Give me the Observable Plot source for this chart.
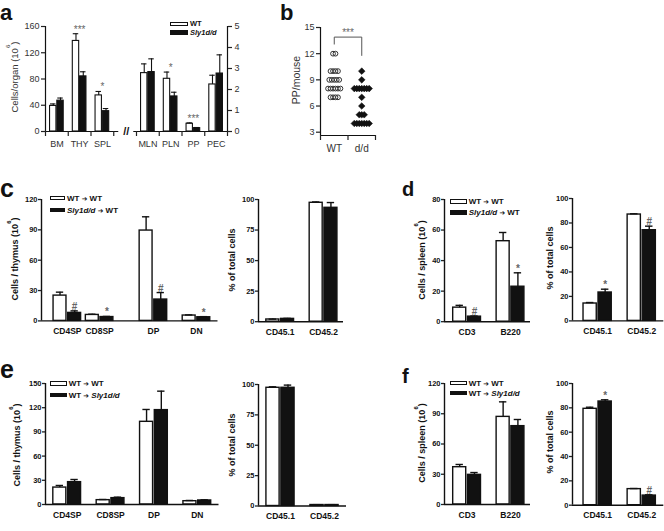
<!DOCTYPE html>
<html><head><meta charset="utf-8">
<script src="https://cdn.jsdelivr.net/npm/d3@7"></script>
<script src="https://cdn.jsdelivr.net/npm/@observablehq/plot@0.6"></script>
<style>
body{margin:0;background:#fff;}
#fig{position:relative;width:664px;height:531px;overflow:hidden;font-family:"Liberation Sans",Arial,Helvetica,sans-serif;color:#222;background:#fff;}
#fig svg{overflow:visible;position:absolute;}
.letter{position:absolute;font-weight:bold;line-height:1.15;color:#111;}
.ytitle{position:absolute;white-space:nowrap;line-height:1;transform:translate(-50%,-50%) rotate(-90deg);}
.lrow{position:absolute;display:flex;align-items:center;height:10px;font-weight:bold;white-space:nowrap;color:#111;}
.sw{box-sizing:border-box;border:1.2px solid #111;margin-right:2px;}
.arr{font-family:"DejaVu Sans",sans-serif;font-size:85%;}
sup{font-size:65%;vertical-align:top;position:relative;top:-0.35em;line-height:0;}
</style></head><body><div id="fig"></div>
<script>
// ================= DATA =================
// a: cells per organ (10^6); left group on left axis, right group on right axis
const aCatsL = ["BM","THY","SPL"];
const aWTL = [39,138,55], aWTLerr = [3,11,6];
const aKOL = [47,84,31],  aKOLerr = [4,7,4];
const aSigL = ["","***","*"];
const aCatsR = ["MLN","PLN","PP","PEC"];
const aWTR = [2.78,2.51,0.37,2.24], aWTRerr = [0.44,0.32,0.04,0.44];
const aKOR = [2.83,1.67,0.16,2.76], aKORerr = [0.63,0.20,0.03,0.89];
const aSigR = ["","*","***",""];
const aTicksL = [0,40,80,120,160], aTicksR = [0,1,2,3,4,5];

// b: PP per mouse
const bGroups = ["WT","d/d"];
const bWT = [12,12,10,10,10,10,9,9,9,9,9,8,8,8,8,8,8,7,7,7,7];
const bKO = [10,9,8,8,8,8,8,8,8,7,6,5,5,5,4,4,4,4,4,4,4];
const bTicks = [3,6,9,12,15];
const bSig = [{label:"***", y:13.9, yLeft:13.1, yRight:11.8}];

// c
const cCats = ["CD4SP","CD8SP","DP","DN"];
const cWT = [25,5.9,89.3,5.3], cWTerr = [3.4,0.7,13.6,0.6];
const cKO = [7.9,3.8,21.1,3.6], cKOerr = [2,0.6,6.9,0.6];
const cSig = ["#","*","#","*"];
const cTicks = [0,30,60,90,120];
const pctCats = ["CD45.1","CD45.2"];
const cPWT = [1.8,97.3], cPWTerr = [0.3,0.7];
const cPKO = [2.3,93.2], cPKOerr = [0.4,4.3];
const cPSig = ["",""];
const pctTicks25 = [0,25,50,75,100];

// d
const spCats = ["CD3","B220"];
const dWT = [9.2,52.7], dWTerr = [1.5,5.7];
const dKO = [3.3,22.9], dKOerr = [0.4,9.1];
const dSig = ["#","*"];
const dTicks = [0,20,40,60,80];
const dPWT = [14.2,86.9], dPWTerr = [0.8,0.6];
const dPKO = [23.2,74.1], dPKOerr = [2.7,3.3];
const dPSig = ["*","#"];
const pctTicks20 = [0,20,40,60,80,100];

// e
const eWT = [21,5.4,102.5,4.1], eWTerr = [2.6,0.8,15.3,0.9];
const eKO = [27.7,7.9,117,5], eKOerr = [3.3,1.2,23.5,0.8];
const eSig = ["","","",""];
const eTicks = [0,30,60,90,120,150];
const ePWT = [97.3,0.8], ePWTerr = [0.8,0.3];
const ePKO = [97.3,0.8], ePKOerr = [2.2,0.3];
const ePSig = ["",""];

// f
const fWT = [37,86.9], fWTerr = [2.7,14.9];
const fKO = [29.4,77.7], fKOerr = [2.3,6.6];
const fSig = ["",""];
const fTicks = [0,30,60,90,120];
const fPWT = [79.2,13.2], fPWTerr = [1.3,0.5];
const fPKO = [85.2,7.9], fPKOerr = [1.4,0.6];
const fPSig = ["*","#"];

// ================= LAYOUT HELPERS =================
const FONT = '"Liberation Sans", Arial, Helvetica, sans-serif';
const INK = "#111";
const fig = document.getElementById("fig");
const PAD = 40;

function mount(svg, left, top) {
  svg.style.left = left + "px";
  svg.style.top = top + "px";
  fig.appendChild(svg);
}

function makePlot(frame, xDomain, yDomain, marks, inset = 0) {
  const width = frame.x1 - frame.x0 + 2 * PAD;
  const height = frame.y0 - frame.y1 + 2 * PAD;
  const svg = Plot.plot({
    width, height,
    marginLeft: PAD, marginRight: PAD, marginTop: PAD, marginBottom: PAD,
    x: {type: "linear", domain: xDomain, axis: null},
    y: {type: "linear", domain: yDomain, insetBottom: inset, axis: null},
    style: {background: "transparent", fontFamily: FONT, color: "#222", overflow: "visible"},
    marks
  });
  mount(svg, frame.x0 - PAD, frame.y1 - PAD);
  return svg;
}

function barRows(cats, pos, wt, wtErr, ko, koErr, g) {
  const rows = [];
  cats.forEach((c, i) => {
    rows.push({cat: c, s: "WT", i, a: pos[i] - g.outer, b: pos[i] - g.gap, v: wt[i], e: wtErr[i]});
    rows.push({cat: c, s: "KO", i, a: pos[i] + g.gap, b: pos[i] + g.outer, v: ko[i], e: koErr[i]});
  });
  rows.forEach(r => { r.c = (r.a + r.b) / 2; r.t = r.v + r.e; });
  return rows;
}

function barMarks(rows, g) {
  return [
    Plot.rect(rows, {x1: "a", x2: "b", y1: 0, y2: "v",
      fill: d => d.s === "WT" ? "white" : INK, stroke: INK, strokeWidth: g.sw}),
    Plot.ruleX(rows, {x: "c", y1: "v", y2: "t", stroke: INK, strokeWidth: g.sw}),
    Plot.ruleY(rows, {y: "t", x1: d => d.c - g.cap, x2: d => d.c + g.cap, stroke: INK, strokeWidth: g.sw})
  ];
}

// generic c-f style bar panel
function barPanel(o) {
  const g = {outer: 0.32, gap: 0.02, cap: 0.085, sw: 1.4};
  const rows = barRows(o.cats, o.pos, o.wt, o.wtErr, o.ko, o.koErr, g);
  const sigRows = rows.filter(r => r.s === "KO" && o.sig[r.i]).map(r => ({...r, lab: o.sig[r.i]}));
  const marks = [
    ...barMarks(rows, g),
    Plot.text(sigRows, {x: "c", y: "t", text: "lab", dy: -1, lineAnchor: "bottom",
      fontSize: 10, fill: "#666", fontWeight: "bold"}),
    Plot.ruleX([o.xDomain[0]], {stroke: INK, strokeWidth: 1.4}),
    Plot.ruleY([0], {stroke: INK, strokeWidth: 1.4}),
    Plot.axisY({ticks: o.yTicks, tickFormat: d => String(d), tickSize: 3, tickPadding: 1, label: null,
      fontSize: 7.5, fontWeight: "bold", strokeWidth: 1.3, fill: INK}),
    Plot.axisX({ticks: o.pos, tickFormat: d => o.cats[o.pos.indexOf(d)], tickSize: 0,
      tickPadding: 7, label: null, fontSize: 8.5, fontWeight: "bold", fill: INK})
  ];
  makePlot(o.frame, o.xDomain, [o.yTicks[0], o.yTicks[o.yTicks.length - 1]], marks);
}

function letter(ch, left, baseline, size) {
  // line-height 1.15 → baseline sits ≈ 0.9435·size below the box top
  const d = document.createElement("div");
  d.className = "letter";
  d.textContent = ch;
  d.style.fontSize = size + "px";
  d.style.left = left + "px";
  d.style.top = Math.max(0, baseline - 0.9435 * size) + "px";
  fig.appendChild(d);
}

function ytitle(html, cx, cy, size, bold) {
  const d = document.createElement("div");
  d.className = "ytitle";
  d.innerHTML = html;
  d.style.left = cx + "px";
  d.style.top = cy + "px";
  d.style.fontSize = size + "px";
  d.style.fontWeight = bold ? "bold" : "normal";
  d.style.color = bold ? INK : "#333";
  fig.appendChild(d);
}

function legend(left, c1, step, swW, swH, size, items) {
  items.forEach((it, k) => {
    const row = document.createElement("div");
    row.className = "lrow";
    row.style.left = left + "px";
    row.style.top = (c1 + k * step - 5) + "px";
    row.style.fontSize = size + "px";
    const sw = document.createElement("span");
    sw.className = "sw";
    sw.style.width = swW + "px";
    sw.style.height = swH + "px";
    sw.style.background = it.fill;
    const tx = document.createElement("span");
    tx.innerHTML = it.html;
    row.appendChild(sw); row.appendChild(tx);
    fig.appendChild(row);
  });
}

// ================= PANEL a =================
{
  const posL = aCatsL.map((_, i) => i);
  const posR = aCatsR.map((_, i) => i + aCatsL.length + 1);
  const allCats = [...aCatsL, ...aCatsR], allPos = [...posL, ...posR];
  const xDomain = [-0.5, allPos[allPos.length - 1] + 0.5];
  const bounds = d3.range(xDomain[0], xDomain[1] + 0.01, 1);
  const breakAt = aCatsL.length;
  const frame = {x0: 45, x1: 227, y0: 131, y1: 26};
  const g = {outer: 0.3, gap: 0.02, cap: 0.12, sw: 1.1};
  const rowsL = barRows(aCatsL, posL, aWTL, aWTLerr, aKOL, aKOLerr, g);
  const rowsR = barRows(aCatsR, posR, aWTR, aWTRerr, aKOR, aKORerr, g);
  const sigOf = (rows, sig) => d3.groups(rows, r => r.i)
    .filter(([i]) => sig[i])
    .map(([i, rs]) => ({x: (rs[0].a + rs[1].b) / 2, y: d3.max(rs, r => r.t), lab: sig[i]}));
  const sigStyle = {x: "x", y: "y", text: "lab", dy: -1, lineAnchor: "bottom", fontSize: 10, fill: "#666"};
  makePlot(frame, xDomain, [0, 160], [
    ...barMarks(rowsL, g),
    Plot.text(sigOf(rowsL, aSigL), sigStyle),
    Plot.ruleX([xDomain[0]], {stroke: INK, strokeWidth: 1.2}),
    Plot.ruleY([0], {x1: xDomain[0], x2: breakAt - 0.28, stroke: INK, strokeWidth: 1.2}),
    Plot.ruleY([0], {x1: breakAt + 0.38, x2: xDomain[1], stroke: INK, strokeWidth: 1.2}),
    Plot.text(["//"], {x: breakAt + 0.05, y: 0, text: d => d, fontSize: 11, fill: INK, fontWeight: "bold"}),
    Plot.axisY({ticks: aTicksL, tickFormat: d => String(d), tickSize: 4, tickPadding: 2, label: null, fontSize: 9, fill: "#333", strokeWidth: 1.2}),
    Plot.axisX({ticks: bounds, tickFormat: () => "", tickSize: 5, label: null, strokeWidth: 1.2}),
    Plot.axisX({ticks: allPos, tickFormat: d => allCats[allPos.indexOf(d)], tickSize: 0, tickPadding: 9,
      label: null, fontSize: 9, fill: "#333"})
  ]);
  makePlot(frame, xDomain, [0, 5], [
    ...barMarks(rowsR, g),
    Plot.text(sigOf(rowsR, aSigR), sigStyle),
    Plot.ruleX([xDomain[1]], {stroke: INK, strokeWidth: 1.2}),
    Plot.axisY({anchor: "right", ticks: aTicksR, tickFormat: d => String(d), tickSize: 4, tickPadding: 3, label: null, fontSize: 9, fill: "#333", strokeWidth: 1.2})
  ]);
  letter("a", 0, 20.5, 22);
  ytitle("Cells/organ (10<sup>6</sup>)", 15, 77, 9.5, false);
  legend(170, 23.8, 8.7, 18, 4.5, 7.5, [
    {fill: "white", html: "WT"},
    {fill: INK, html: "<i>Sly1d/d</i>"}
  ]);
}

// ================= PANEL b =================
{
  const step = 0.09;
  function swarm(vals, gi) {
    const counts = d3.rollup(vals, v => v.length, d => d);
    const seen = new Map();
    return vals.map(v => {
      const n = counts.get(v), k = seen.get(v) || 0;
      seen.set(v, k + 1);
      return {x: gi + (k - (n - 1) / 2) * step, v};
    });
  }
  const ptsWT = swarm(bWT, 0), ptsKO = swarm(bKO, 1);
  const gpos = bGroups.map((_, i) => i);
  const xDomain = [-0.5, bGroups.length - 0.5];
  const frame = {x0: 320, x1: 375, y0: 135, y1: 27};
  const bracket = bSig.flatMap(s => [
    {x: 0, y: s.yLeft}, {x: 0, y: s.y}, {x: 1, y: s.y}, {x: 1, y: s.yRight}
  ]);
  makePlot(frame, xDomain, [bTicks[0], bTicks[bTicks.length - 1]], [
    Plot.dot(ptsWT, {x: "x", y: "v", r: 2.4, stroke: "#333", fill: "none", strokeWidth: 1}),
    Plot.dot(ptsKO, {x: "x", y: "v", r: 3, symbol: "diamond2", fill: INK, stroke: INK, strokeWidth: 0.5}),
    Plot.line(bracket, {x: "x", y: "y", stroke: "#555", strokeWidth: 1}),
    Plot.text(bSig, {x: () => 0.5, y: "y", text: "label", dy: -1, lineAnchor: "bottom", fontSize: 10, fill: "#666"}),
    Plot.ruleX([xDomain[0]], {stroke: INK, strokeWidth: 1.2}),
    Plot.ruleY([bTicks[0]], {dy: 3.3, stroke: INK, strokeWidth: 1.2}),
    Plot.axisY({ticks: bTicks, tickFormat: d => String(d), tickSize: 4, tickPadding: 2, label: null, fontSize: 9, fill: "#333", strokeWidth: 1.2}),
    Plot.axisX({ticks: d3.range(xDomain[0], xDomain[1] + 0.01, 1), tickFormat: () => "", tickSize: 5, label: null, strokeWidth: 1.2}),
    Plot.axisX({ticks: gpos, tickFormat: d => bGroups[d], tickSize: 0, tickPadding: 9, label: null, fontSize: 10, fill: "#333"})
  ], 3.3);
  letter("b", 280, 21, 22);
  ytitle("PP/mouse", 296, 80, 10.5, false);
}

// ================= PANELS c-f =================
const thymusPosC = [0, 0.75, 2, 3];
const thymusPosE = [0, 1, 2, 3];
const pairPos = [0, 1];

barPanel({cats: cCats, pos: thymusPosC, wt: cWT, wtErr: cWTerr, ko: cKO, koErr: cKOerr, sig: cSig,
  yTicks: cTicks, xDomain: [-0.6, 3.5], frame: {x0: 40.5, x1: 217, y0: 320.7, y1: 199.3}});
barPanel({cats: pctCats, pos: pairPos, wt: cPWT, wtErr: cPWTerr, ko: cPKO, koErr: cPKOerr, sig: cPSig,
  yTicks: pctTicks25, xDomain: [-0.5, 1.46], frame: {x0: 258, x1: 343, y0: 321.5, y1: 199.3}});
barPanel({cats: spCats, pos: pairPos, wt: dWT, wtErr: dWTerr, ko: dKO, koErr: dKOerr, sig: dSig,
  yTicks: dTicks, xDomain: [-0.52, 1.46], frame: {x0: 444, x1: 530, y0: 321.5, y1: 199.3}});
barPanel({cats: pctCats, pos: pairPos, wt: dPWT, wtErr: dPWTerr, ko: dPKO, koErr: dPKOerr, sig: dPSig,
  yTicks: pctTicks20, xDomain: [-0.57, 1.5], frame: {x0: 571.7, x1: 663, y0: 320.7, y1: 198.3}});
barPanel({cats: cCats, pos: thymusPosE, wt: eWT, wtErr: eWTerr, ko: eKO, koErr: eKOerr, sig: eSig,
  yTicks: eTicks, xDomain: [-0.5, 3.5], frame: {x0: 44.5, x1: 218, y0: 504.3, y1: 383.3}});
barPanel({cats: pctCats, pos: pairPos, wt: ePWT, wtErr: ePWTerr, ko: ePKO, koErr: ePKOerr, sig: ePSig,
  yTicks: pctTicks25, xDomain: [-0.5, 1.5], frame: {x0: 258, x1: 346, y0: 505.5, y1: 384}});
barPanel({cats: spCats, pos: pairPos, wt: fWT, wtErr: fWTerr, ko: fKO, koErr: fKOerr, sig: fSig,
  yTicks: fTicks, xDomain: [-0.52, 1.46], frame: {x0: 444, x1: 530, y0: 504.3, y1: 383.3}});
barPanel({cats: pctCats, pos: pairPos, wt: fPWT, wtErr: fPWTerr, ko: fPKO, koErr: fPKOerr, sig: fPSig,
  yTicks: pctTicks20, xDomain: [-0.57, 1.5], frame: {x0: 571.7, x1: 663, y0: 505, y1: 383.3}});

letter("c", 0, 198, 25);
letter("d", 402, 197, 20);
letter("e", 0, 378.5, 25);
letter("f", 402, 383.5, 20);

const cellsT = "Cells / thymus (10<sup>6</sup>)";
const cellsS = "Cells / spleen (10<sup>6</sup>)";
const pctT = "% of total cells";
ytitle(cellsT, 15, 259, 9, true);
ytitle(pctT, 232, 260, 9, true);
ytitle(cellsS, 421.7, 260, 9, true);
ytitle(pctT, 550, 258, 9, true);
ytitle(cellsT, 16.7, 445, 9, true);
ytitle(pctT, 232, 445, 9, true);
ytitle(cellsS, 421.7, 443, 9, true);
ytitle(pctT, 550, 442, 9, true);

const arrow = ' <span class="arr">\u2794</span> ';
legend(50, 198, 12, 15, 4.5, 8, [
  {fill: "white", html: "WT" + arrow + "WT"},
  {fill: INK, html: "<i>Sly1d/d</i>" + arrow + "WT"}
]);
legend(450, 201.7, 10.6, 16.7, 4.5, 8, [
  {fill: "white", html: "WT" + arrow + "WT"},
  {fill: INK, html: "<i>Sly1d/d</i>" + arrow + "WT"}
]);
legend(50, 383.5, 11.5, 16.7, 4.5, 8, [
  {fill: "white", html: "WT" + arrow + "WT"},
  {fill: INK, html: "WT" + arrow + "<i>Sly1d/d</i>"}
]);
legend(450, 383, 10, 16.7, 4.5, 8, [
  {fill: "white", html: "WT" + arrow + "WT"},
  {fill: INK, html: "WT" + arrow + "<i>Sly1d/d</i>"}
]);
</script></body></html>
